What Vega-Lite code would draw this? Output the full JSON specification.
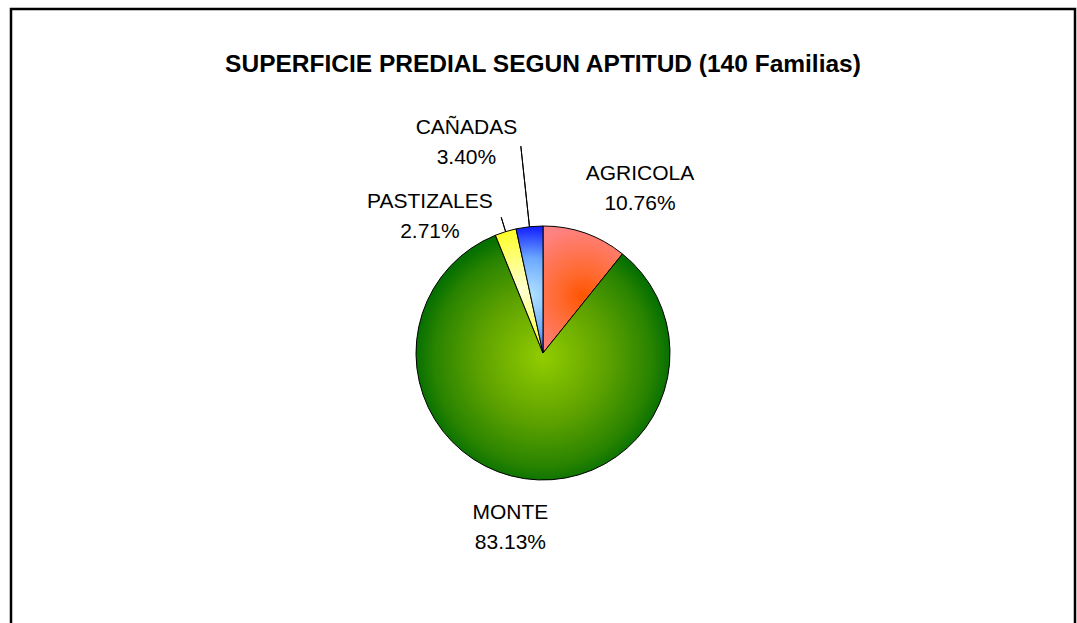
{
  "$schema": "https://vega.github.io/schema/vega-lite/v6.json",
  "width": 1064,
  "height": 688,
  "autosize": "none",
  "padding": {"left": 11, "top": 9, "right": 2, "bottom": 0},
  "background": "white",
  "view": {"stroke": "#000000", "strokeWidth": 2.5},
  "title": {
    "text": "SUPERFICIE PREDIAL SEGUN APTITUD (140 Familias)",
    "font": "Liberation Sans",
    "fontSize": 24.5,
    "fontWeight": "bold",
    "color": "#000000",
    "anchor": "middle",
    "frame": "group",
    "offset": -68
  },
  "data": {
    "values": [
      {"categoria": "AGRICOLA", "porcentaje": 10.76},
      {"categoria": "MONTE", "porcentaje": 83.13},
      {"categoria": "PASTIZALES", "porcentaje": 2.71},
      {"categoria": "CAÑADAS", "porcentaje": 3.40}
    ]
  },
  "transform": [
    {"stack": "porcentaje", "groupby": [], "as": ["inicio", "fin"]},
    {"calculate": "(datum.inicio + datum.fin) / 2", "as": "medio"},
    {"calculate": "[datum.categoria, format(datum.porcentaje, '.2f') + '%']", "as": "etiqueta"}
  ],
  "layer": [
    {
      "transform": [{"filter": "datum.categoria === 'AGRICOLA'"}],
      "mark": {
        "type": "arc", "radius": 127, "stroke": "#000000", "strokeWidth": 1,
        "fill": {"gradient": "radial", "x1": 0.5, "y1": 0.55, "r1": 0, "x2": 0.5, "y2": 0.55, "r2": 0.55,
          "stops": [{"offset": 0, "color": "#ff5400"}, {"offset": 0.35, "color": "#ff6a30"}, {"offset": 1, "color": "#ff8282"}]}
      },
      "encoding": {
        "theta": {"field": "inicio", "type": "quantitative", "scale": {"domain": [0, 100]}},
        "theta2": {"field": "fin"}
      }
    },
    {
      "transform": [{"filter": "datum.categoria === 'MONTE'"}],
      "mark": {
        "type": "arc", "radius": 127, "stroke": "#000000", "strokeWidth": 1,
        "fill": {"gradient": "radial", "x1": 0.5, "y1": 0.5, "r1": 0, "x2": 0.5, "y2": 0.5, "r2": 0.5,
          "stops": [{"offset": 0, "color": "#92cc00"}, {"offset": 0.5, "color": "#5ea200"}, {"offset": 0.85, "color": "#2a8400"}, {"offset": 1, "color": "#067000"}]}
      },
      "encoding": {
        "theta": {"field": "inicio", "type": "quantitative", "scale": {"domain": [0, 100]}},
        "theta2": {"field": "fin"}
      }
    },
    {
      "transform": [{"filter": "datum.categoria === 'PASTIZALES'"}],
      "mark": {
        "type": "arc", "radius": 127, "stroke": "#000000", "strokeWidth": 1,
        "fill": {"gradient": "radial", "x1": 0.5, "y1": 0.5, "r1": 0, "x2": 0.5, "y2": 0.5, "r2": 0.6,
          "stops": [{"offset": 0, "color": "#ffffd8"}, {"offset": 1, "color": "#ffff00"}]}
      },
      "encoding": {
        "theta": {"field": "inicio", "type": "quantitative", "scale": {"domain": [0, 100]}},
        "theta2": {"field": "fin"}
      }
    },
    {
      "transform": [{"filter": "datum.categoria === 'CAÑADAS'"}],
      "mark": {
        "type": "arc", "radius": 127, "stroke": "#000000", "strokeWidth": 1,
        "fill": {"gradient": "radial", "x1": 0.5, "y1": 0.55, "r1": 0, "x2": 0.5, "y2": 0.55, "r2": 0.6,
          "stops": [{"offset": 0, "color": "#b4e4ff"}, {"offset": 0.5, "color": "#6aa8ff"}, {"offset": 1, "color": "#0000ff"}]}
      },
      "encoding": {
        "theta": {"field": "inicio", "type": "quantitative", "scale": {"domain": [0, 100]}},
        "theta2": {"field": "fin"}
      }
    },
    {
      "transform": [{"filter": "datum.categoria === 'CAÑADAS'"}],
      "mark": {"type": "arc", "radius": 208, "radius2": 127, "filled": false, "stroke": "#000000", "strokeWidth": 1},
      "encoding": {
        "theta": {"field": "medio", "type": "quantitative", "scale": {"domain": [0, 100]}},
        "theta2": {"field": "medio"}
      }
    },
    {
      "transform": [{"filter": "datum.categoria === 'PASTIZALES'"}],
      "mark": {"type": "arc", "radius": 142, "radius2": 127, "filled": false, "stroke": "#000000", "strokeWidth": 1},
      "encoding": {
        "theta": {"field": "medio", "type": "quantitative", "scale": {"domain": [0, 100]}},
        "theta2": {"field": "medio"}
      }
    },
    {
      "transform": [{"filter": "datum.categoria === 'AGRICOLA'"}],
      "mark": {"type": "text", "radius": 175, "dx": 39, "dy": -14, "font": "Liberation Sans", "fontSize": 21, "lineHeight": 30, "align": "center", "baseline": "middle", "color": "#000000"},
      "encoding": {
        "theta": {"field": "medio", "type": "quantitative", "scale": {"domain": [0, 100]}},
        "text": {"field": "etiqueta"}
      }
    },
    {
      "transform": [{"filter": "datum.categoria === 'MONTE'"}],
      "mark": {"type": "text", "radius": 176, "dx": -7, "dy": -14, "font": "Liberation Sans", "fontSize": 21, "lineHeight": 30, "align": "center", "baseline": "middle", "color": "#000000"},
      "encoding": {
        "theta": {"field": "medio", "type": "quantitative", "scale": {"domain": [0, 100]}},
        "text": {"field": "etiqueta"}
      }
    },
    {
      "transform": [{"filter": "datum.categoria === 'PASTIZALES'"}],
      "mark": {"type": "text", "radius": 143, "dx": -71, "dy": -14, "font": "Liberation Sans", "fontSize": 21, "lineHeight": 30, "align": "center", "baseline": "middle", "color": "#000000"},
      "encoding": {
        "theta": {"field": "medio", "type": "quantitative", "scale": {"domain": [0, 100]}},
        "text": {"field": "etiqueta"}
      }
    },
    {
      "transform": [{"filter": "datum.categoria === 'CAÑADAS'"}],
      "mark": {"type": "text", "radius": 212, "dx": -54, "dy": -14, "font": "Liberation Sans", "fontSize": 21, "lineHeight": 30, "align": "center", "baseline": "middle", "color": "#000000"},
      "encoding": {
        "theta": {"field": "medio", "type": "quantitative", "scale": {"domain": [0, 100]}},
        "text": {"field": "etiqueta"}
      }
    }
  ]
}
